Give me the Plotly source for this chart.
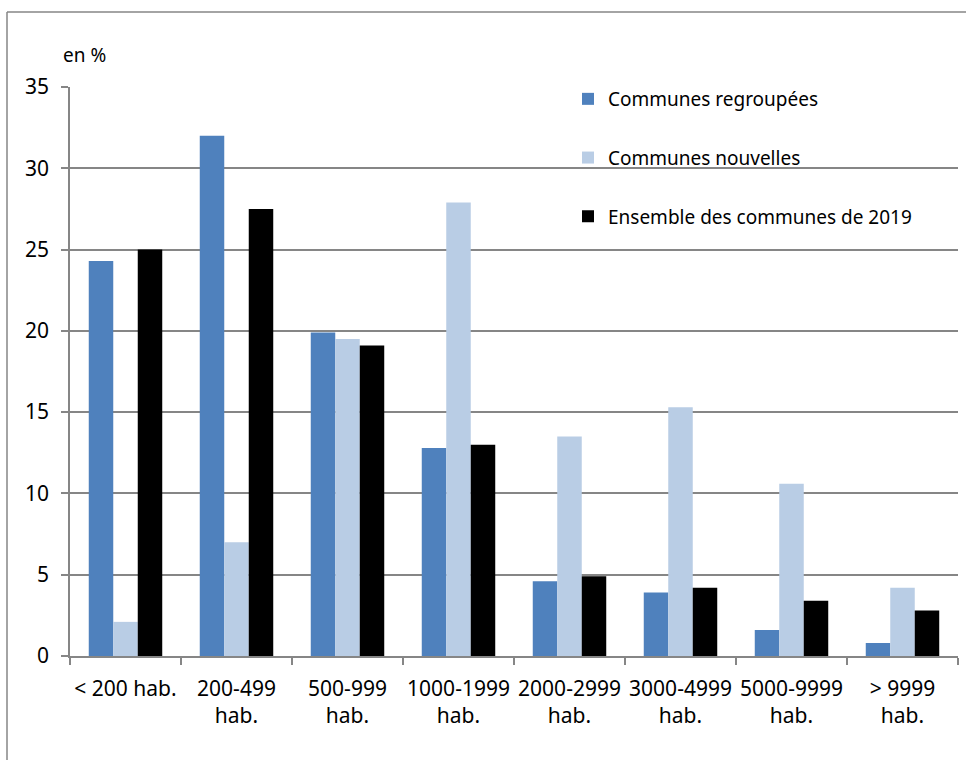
import plotly.graph_objects as go

categories = ["< 200 hab.", "200-499<br>hab.", "500-999<br>hab.", "1000-1999<br>hab.",
              "2000-2999<br>hab.", "3000-4999<br>hab.", "5000-9999<br>hab.", "> 9999<br>hab."]
regroupees = [24.3, 32.0, 19.9, 12.8, 4.6, 3.9, 1.6, 0.8]
nouvelles = [2.1, 7.0, 19.5, 27.9, 13.5, 15.3, 10.6, 4.2]
ensemble = [25.0, 27.5, 19.1, 13.0, 4.9, 4.2, 3.4, 2.8]
series_names = ["Communes regroupées", "Communes nouvelles", "Ensemble des communes de 2019"]
series_colors = ["#4F81BD", "#B9CDE5", "#000000"]
y_ticks = [0, 5, 10, 15, 20, 25, 30, 35]

FONT = "Noto Sans"
GRAY = "#868686"

fig = go.Figure()
for i, (name, vals, col) in enumerate(zip(series_names, [regroupees, nouvelles, ensemble], series_colors)):
    fig.add_trace(go.Bar(x=categories, y=vals, name=name, marker_color=col,
                         marker_line_width=0, legendgroup=str(i)))

W, H = 966, 760
L, R, T, B = 70, 8, 87, 104
pw, ph = W - L - R, H - T - B

def px_to_paper_x(px):
    return (px - L) / pw

def px_to_paper_y(py):
    return (H - B - py) / ph

fig.update_layout(
    width=W, height=H,
    margin=dict(l=L, r=R, t=T, b=B, autoexpand=False),
    paper_bgcolor="white", plot_bgcolor="white",
    barmode="group", bargap=0.338, bargroupgap=0,
    font=dict(family=FONT, size=20, color="#000000"),
    legend=dict(x=px_to_paper_x(568), y=px_to_paper_y(80), xanchor="left", yanchor="top",
                font=dict(size=19), tracegroupgap=31, bgcolor="rgba(0,0,0,0)",
                itemclick=False),
    showlegend=True,
    xaxis=dict(type="category", showgrid=False, showline=True, linecolor=GRAY, linewidth=1.5,
               ticks="outside", ticklen=7, tickcolor=GRAY, tickwidth=1.5, tickangle=0,
               automargin=False,
               tickson="boundaries", tickfont=dict(size=21), ticklabelstandoff=13),
    yaxis=dict(range=[0, 35], tickvals=y_ticks, showgrid=True, gridcolor=GRAY, gridwidth=1.5,
               showline=True, linecolor=GRAY, linewidth=1.5, ticks="outside", ticklen=7,
               tickcolor=GRAY, tickwidth=1.5, zeroline=False, tickfont=dict(size=21),
               automargin=False, ticklabelstandoff=8),
    annotations=[dict(text="en %", xref="paper", yref="paper", x=px_to_paper_x(61),
                      y=px_to_paper_y(55), xanchor="left", yanchor="middle",
                      showarrow=False, font=dict(size=19))],
    shapes=[
        dict(type="line", xref="paper", yref="paper", x0=px_to_paper_x(7), x1=px_to_paper_x(980),
             y0=px_to_paper_y(12), y1=px_to_paper_y(12), line=dict(color=GRAY, width=1.5)),
        dict(type="line", xref="paper", yref="paper", x0=px_to_paper_x(7), x1=px_to_paper_x(7),
             y0=px_to_paper_y(12), y1=px_to_paper_y(780), line=dict(color=GRAY, width=1.5)),
    ],
)

fig.write_html("out.html", config={"displayModeBar": False},
               post_script="document.body.style.margin='0';")
